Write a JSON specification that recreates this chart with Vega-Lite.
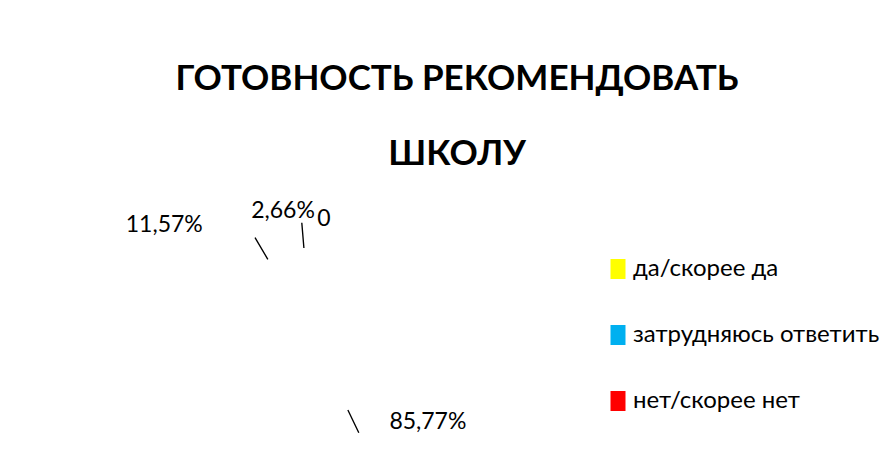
{
  "$schema": "https://vega.github.io/schema/vega-lite/v6.json",
  "autosize": {"type": "none"},
  "width": 622,
  "height": 278,
  "padding": {"left": 0, "top": 194, "right": 272, "bottom": 0},
  "background": "white",
  "config": {"view": {"stroke": null}, "font": "Lato, 'Open Sans', sans-serif"},
  "title": {
    "text": ["ГОТОВНОСТЬ РЕКОМЕНДОВАТЬ", "ШКОЛУ"],
    "anchor": "middle",
    "dx": 146,
    "fontSize": 35,
    "fontWeight": "bold",
    "font": "Lato, 'Open Sans', sans-serif",
    "lineHeight": 75,
    "color": "#000000",
    "offset": 22
  },
  "datasets": {
    "answers": [
      {"cat": "да/скорее да", "value": 85.77, "label": "85,77%", "ord": 1},
      {"cat": "затрудняюсь ответить", "value": 11.57, "label": "11,57%", "ord": 2},
      {"cat": "нет/скорее нет", "value": 2.66, "label": "2,66%", "ord": 3},
      {"cat": "пусто", "value": 0, "label": "0", "ord": 4}
    ]
  },
  "data": {"name": "answers"},
  "layer": [
    {
      "transform": [{"filter": "datum.value > 0"}],
      "mark": {"type": "arc", "radius": 95, "opacity": 0},
      "encoding": {
        "theta": {"field": "value", "type": "quantitative", "stack": true, "scale": {"domain": [0, 100]}},
        "order": {"field": "ord", "type": "quantitative"},
        "color": {
          "field": "cat",
          "type": "nominal",
          "scale": {"domain": ["да/скорее да", "затрудняюсь ответить", "нет/скорее нет"], "range": ["#FFFF00", "#00B0F0", "#FF0000"]},
          "legend": {
            "title": null,
            "orient": "none",
            "legendX": 606,
            "legendY": 63,
            "padding": 0,
            "symbolType": "M-0.75,-1h1.5v2h-1.5z",
            "symbolSize": 400,
            "symbolOpacity": 1,
            "symbolStrokeWidth": 0,
            "labelFontSize": 24,
            "labelFont": "Lato, 'Open Sans', sans-serif",
            "labelColor": "#000000",
            "labelOffset": 3,
            "rowPadding": 42,
            "labelLimit": 400
          }
        }
      }
    },
    {
      "transform": [
        {"stack": "value", "groupby": [], "sort": [{"field": "ord", "order": "ascending"}], "as": ["s0", "s1"]},
        {"calculate": "(datum.s0 + datum.s1) / 2", "as": "mid"},
        {"calculate": "datum.mid + 0.01", "as": "mid2"},
        {"filter": "datum.value > 0"}
      ],
      "mark": {"type": "arc", "radius": 86, "radius2": 110, "filled": false, "stroke": "#000000", "strokeWidth": 1.3},
      "encoding": {
        "theta": {"field": "mid", "type": "quantitative", "stack": null, "scale": {"domain": [0, 100]}},
        "theta2": {"field": "mid2"}
      }
    },
    {
      "transform": [
        {"stack": "value", "groupby": [], "sort": [{"field": "ord", "order": "ascending"}], "as": ["s0", "s1"]},
        {"calculate": "(datum.s0 + datum.s1) / 2", "as": "mid"},
        {"filter": "datum.ord == 1"}
      ],
      "mark": {"type": "text", "radius": 120, "fontSize": 23, "align": "center", "baseline": "middle", "dx": 65, "dy": -19, "color": "#000000"},
      "encoding": {
        "theta": {"field": "mid", "type": "quantitative", "stack": null, "scale": {"domain": [0, 100]}},
        "text": {"field": "label"}
      }
    },
    {
      "transform": [
        {"stack": "value", "groupby": [], "sort": [{"field": "ord", "order": "ascending"}], "as": ["s0", "s1"]},
        {"calculate": "(datum.s0 + datum.s1) / 2", "as": "mid"},
        {"filter": "datum.ord == 2"}
      ],
      "mark": {"type": "text", "radius": 120, "fontSize": 23, "align": "center", "baseline": "middle", "dx": -86, "dy": -5, "color": "#000000"},
      "encoding": {
        "theta": {"field": "mid", "type": "quantitative", "stack": null, "scale": {"domain": [0, 100]}},
        "text": {"field": "label"}
      }
    },
    {
      "transform": [
        {"stack": "value", "groupby": [], "sort": [{"field": "ord", "order": "ascending"}], "as": ["s0", "s1"]},
        {"calculate": "(datum.s0 + datum.s1) / 2", "as": "mid"},
        {"filter": "datum.ord == 3"}
      ],
      "mark": {"type": "text", "radius": 120, "fontSize": 23, "align": "center", "baseline": "middle", "dx": -18, "dy": -2, "color": "#000000"},
      "encoding": {
        "theta": {"field": "mid", "type": "quantitative", "stack": null, "scale": {"domain": [0, 100]}},
        "text": {"field": "label"}
      }
    },
    {
      "transform": [
        {"stack": "value", "groupby": [], "sort": [{"field": "ord", "order": "ascending"}], "as": ["s0", "s1"]},
        {"calculate": "(datum.s0 + datum.s1) / 2", "as": "mid"},
        {"filter": "datum.ord == 4"}
      ],
      "mark": {"type": "text", "radius": 120, "fontSize": 23, "align": "center", "baseline": "middle", "dx": 13, "dy": 6, "color": "#000000"},
      "encoding": {
        "theta": {"field": "mid", "type": "quantitative", "stack": null, "scale": {"domain": [0, 100]}},
        "text": {"field": "label"}
      }
    }
  ]
}
